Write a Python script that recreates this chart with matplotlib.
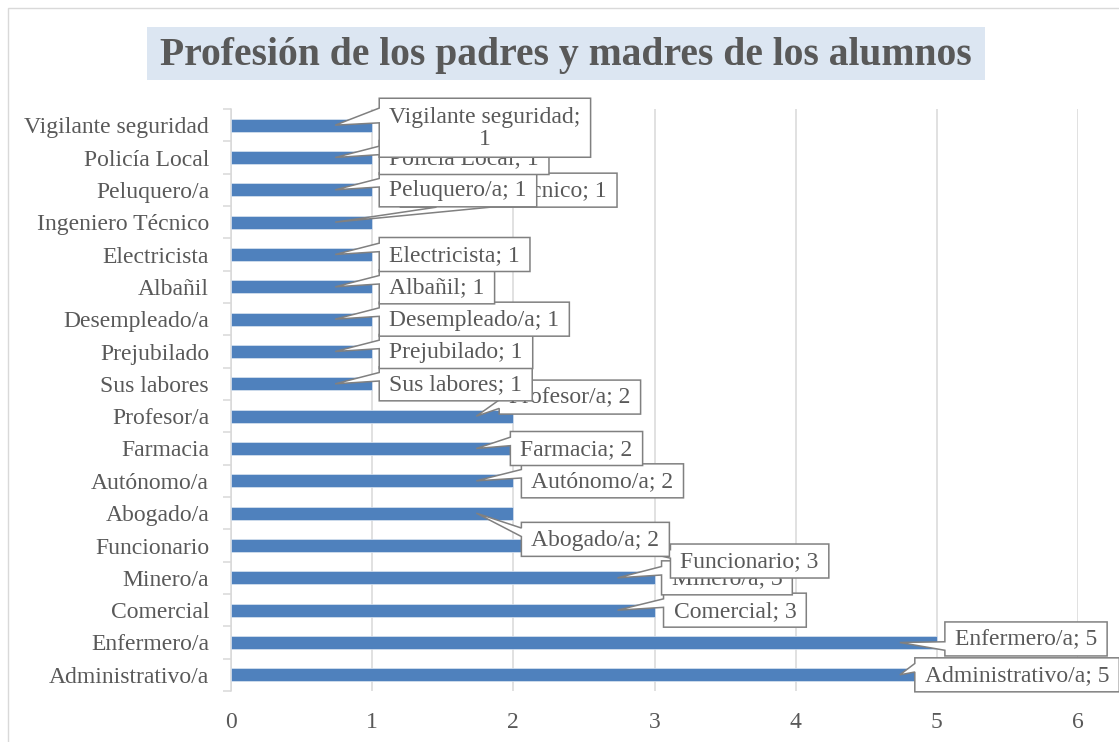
import matplotlib
matplotlib.use("Agg")
import matplotlib.pyplot as plt
from matplotlib.patches import Polygon, Rectangle
import numpy as np

# ---------------- data ----------------
categories = ["Administrativo/a", "Enfermero/a", "Comercial", "Minero/a", "Funcionario",
              "Abogado/a", "Autónomo/a", "Farmacia", "Profesor/a", "Sus labores",
              "Prejubilado", "Desempleado/a", "Albañil", "Electricista",
              "Ingeniero Técnico", "Peluquero/a", "Policía Local", "Vigilante seguridad"]
values = [5, 5, 3, 3, 3, 2, 2, 2, 2, 1, 1, 1, 1, 1, 1, 1, 1, 1]
x_ticks = [0, 1, 2, 3, 4, 5, 6]
title = "Profesión de los padres y madres de los alumnos"

# ---------------- label layout (style) ----------------
wrapped = {"Vigilante seguridad"}
# box left edge relative to bar end (data units), box centre relative to bar (category units)
label_dx = [-0.156, 0.057, 0.064, 0.05, 0.113, 0.057, 0.057, -0.021, -0.10,
            0.05, 0.05, 0.05, 0.05, 0.05, 0.20, 0.05, 0.05, 0.05]
label_dy = [0.0, 0.11, 0.0, 0.0, -0.48, -0.81, 0.0, 0.0, 0.59,
            0.0, 0.0, 0.0, 0.0, 0.0, 0.99, 0.0, 0.0, -0.08]
tip_offset = 0.262

plt.rcParams["font.family"] = ["Liberation Serif", "DejaVu Serif"]
TXT = "#595959"
GRID = "#d9d9d9"
BORDER = "#808080"

W, H = 1119, 742
fig = plt.figure(figsize=(W / 100, H / 100), dpi=100)

# outer chart border
fig.add_artist(Rectangle((8 / W, -0.05), 1.2, 1 - 8 / H + 0.05, transform=fig.transFigure,
                         fill=False, ec=GRID, lw=1.0, zorder=0))

ax = fig.add_axes([231 / W, 1 - 691 / H, (1078 - 231) / W, (691 - 109) / H])
n = len(categories)
ypos = np.arange(n)
ax.barh(ypos, values, height=0.4, color="#4F81BD", edgecolor="#dbe5f1",
        linewidth=0.5, zorder=3)
ax.set_xlim(0, 6)
ax.set_ylim(-0.5, n - 0.5)
ax.set_xticks(x_ticks)
ax.set_xticklabels([str(t) for t in x_ticks])
ax.set_yticks(ypos)
ax.set_yticklabels(categories)
ax.set_yticks(np.arange(-0.5, n), minor=True)
ax.xaxis.grid(True, color=GRID, linewidth=1.1, zorder=0)
ax.set_axisbelow(True)
for s in ["top", "right", "bottom"]:
    ax.spines[s].set_visible(False)
ax.spines["left"].set_color(GRID)
ax.spines["left"].set_linewidth(1.1)
ax.tick_params(axis="x", length=0, pad=15, labelsize=17, labelcolor=TXT)
ax.tick_params(axis="y", which="major", length=0, pad=15.8, labelsize=17, labelcolor=TXT)
ax.tick_params(axis="y", which="minor", length=5.8, width=1.1, color=GRID, direction="out")

# title
fig.canvas.draw()
renderer = fig.canvas.get_renderer()
tt = fig.text(566 / W, 1 - 55 / H, title, ha="center", va="center", fontsize=28.5,
              fontweight="bold", color=TXT, zorder=6)
ext = tt.get_window_extent(renderer)
tw = ext.width
cx = 566
fig.add_artist(Rectangle(((cx - tw / 2 - 13) / W, 1 - 80 / H), (tw + 26) / W, 53 / H,
                         transform=fig.transFigure, fc="#dce6f2", ec="none", zorder=5))


def callout(w, h, xPos, yPos):
    hc, vc = w / 2, h / 2
    dxPos = xPos - hc
    dyPos = yPos - vc
    dx = dxPos * h / w
    dy = dyPos
    dz = abs(dy) - abs(dx)
    xg1, xg2 = (7, 10) if dxPos > 0 else (2, 5)
    yg1, yg2 = (7, 10) if dyPos > 0 else (2, 5)
    x1, x2 = w * xg1 / 12, w * xg2 / 12
    y1, y2 = h * yg1 / 12, h * yg2 / 12
    t1 = 0 if dxPos > 0 else xPos
    xl = 0 if dz > 0 else t1
    t2 = x1 if dyPos > 0 else xPos
    xt = t2 if dz > 0 else x1
    t3 = xPos if dxPos > 0 else w
    xr = w if dz > 0 else t3
    t4 = xPos if dyPos > 0 else x1
    xb = t4 if dz > 0 else x1
    t5 = y1 if dxPos > 0 else yPos
    yl = y1 if dz > 0 else t5
    t6 = 0 if dyPos > 0 else yPos
    yt = t6 if dz > 0 else 0
    t7 = yPos if dyPos > 0 else h
    yb = t7 if dz > 0 else h
    t8 = yPos if dxPos > 0 else y1
    yr = y1 if dz > 0 else t8
    return [(0, 0), (x1, 0), (xt, yt), (x2, 0), (w, 0), (w, y1), (xr, yr), (w, y2),
            (w, h), (x2, h), (xb, yb), (x1, h), (0, h), (0, y2), (xl, yl), (0, y1)]


px_unit = ax.transData.transform((1, 0))[0] - ax.transData.transform((0, 0))[0]
pitch = ax.transData.transform((0, 1))[1] - ax.transData.transform((0, 0))[1]

for i, (cat, v) in enumerate(zip(categories, values)):
    sep = ";\n" if cat in wrapped else "; "
    lab = f"{cat}{sep}{v}"
    nlines = lab.count("\n") + 1
    endx, endy = ax.transData.transform((v, i))
    tipx, tipy = ax.transData.transform((v - tip_offset, i))
    t = fig.text(0, 0, lab, ha="center", va="center", fontsize=17, color=TXT,
                 linespacing=1.05, multialignment="center", zorder=11 + 2 * i)
    e = t.get_window_extent(renderer)
    bw = e.width + 20
    bh = 34 + 25 * (nlines - 1)
    left = endx + label_dx[i] * px_unit
    cy = endy + label_dy[i] * pitch
    top = cy + bh / 2
    t.set_position(((left + bw / 2) / W, (cy - 1) / H))
    pts = callout(bw, bh, tipx - left, top - tipy)
    fpts = [((left + x) / W, (top - y) / H) for x, y in pts]
    fig.add_artist(Polygon(fpts, closed=True, transform=fig.transFigure, fc="white",
                           ec=BORDER, lw=1.1, joinstyle="miter", zorder=10 + 2 * i))

fig.savefig("out.png", dpi=100)
